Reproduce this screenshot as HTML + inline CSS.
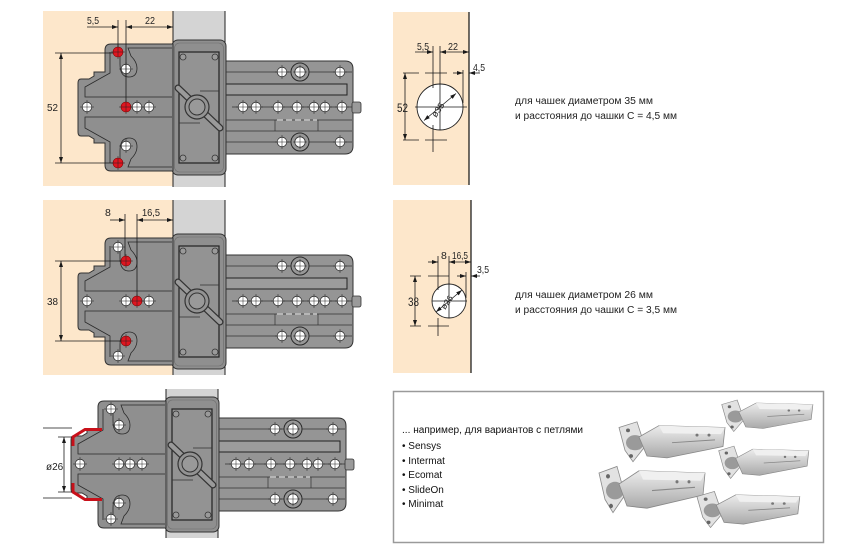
<!DOCTYPE html>
<html><head><meta charset="utf-8"><style>
html,body{margin:0;padding:0;background:#fff;}
svg{display:block;font-family:"Liberation Sans",Arial,sans-serif;}
</style></head><body>
<svg width="841" height="547" viewBox="0 0 841 547" xmlns="http://www.w3.org/2000/svg" xmlns:xlink="http://www.w3.org/1999/xlink">
<defs>
<marker id="a" viewBox="0 0 10 10" refX="10" refY="5" markerWidth="6" markerHeight="4" preserveAspectRatio="none" orient="auto-start-reverse" markerUnits="userSpaceOnUse"><path d="M0,0L10,5L0,10z" fill="#1a1a1a"/></marker>
<linearGradient id="sg" x1="0" y1="0" x2="0" y2="1"><stop offset="0" stop-color="#ececec"/><stop offset="1" stop-color="#a9a9a9"/></linearGradient>
<g id="hw"><circle r="4.8" fill="#fff" stroke="#333" stroke-width=".8"/><path d="M-7,0H7M0,-7V7" stroke="#222" stroke-width=".5"/></g>
<g id="hr"><circle r="5" fill="#e01520" stroke="#800" stroke-width=".6"/><path d="M-7,0H7M0,-7V7" stroke="#222" stroke-width=".5"/></g>
<g id="hb"><circle r="9" fill="#979797" stroke="#2a2a2a" stroke-width="1"/><circle r="5.2" fill="#fff" stroke="#333" stroke-width=".8"/><path d="M-7,0H7M0,-7V7" stroke="#222" stroke-width=".5"/></g>

<g id="rt">
 <path d="M224,61H345Q353,61 353,69V146Q353,154 345,154H224Z" fill="#959595" stroke="#333" stroke-width="1"/>
 <rect x="352" y="102" width="9" height="11" rx="2" fill="#9a9a9a" stroke="#333" stroke-width=".8"/>
 <path d="M226,72H352M232,107H352M226,120H352M226,131H352M226,142H352M275,120V131M318,120V131" stroke="#333" stroke-width=".7" fill="none"/>
 <path d="M277,120H317" stroke="#d8d8d8" stroke-width="1" stroke-dasharray="6 3"/>
 <rect x="226" y="84" width="121" height="11" fill="#9c9c9c" stroke="#222" stroke-width="1"/>
 <rect x="172" y="40" width="54" height="135" rx="6" fill="#8f8f8f" stroke="#333" stroke-width="1"/>
 <rect x="174.5" y="43" width="49" height="129" rx="5" fill="none" stroke="#6a6a6a" stroke-width=".6"/>
 <rect x="179" y="52" width="40" height="111" fill="#939393" stroke="#222" stroke-width="1.2"/>
 <g fill="#9a9a9a" stroke="#333" stroke-width=".8">
  <circle cx="183" cy="57" r="3"/><circle cx="215" cy="57" r="3"/><circle cx="183" cy="158" r="3"/><circle cx="215" cy="158" r="3"/>
 </g>
 <path d="M200,91H219M179,123H200" stroke="#333" stroke-width=".8"/>
 <path d="M178,88L220,128" stroke="#333" stroke-width="7" stroke-linecap="round"/>
 <path d="M178,88L220,128" stroke="#9a9a9a" stroke-width="4.5" stroke-linecap="round"/>
 <circle cx="197" cy="107" r="12" fill="#939393" stroke="#333" stroke-width="1.2"/>
 <circle cx="197" cy="107" r="8" fill="#999" stroke="#333" stroke-width="1"/>
 <use href="#hw" x="282" y="72"/><use href="#hb" x="300" y="72"/><use href="#hw" x="340" y="72"/>
 <use href="#hw" x="243" y="107"/><use href="#hw" x="256" y="107"/><use href="#hw" x="278" y="107"/><use href="#hw" x="297" y="107"/><use href="#hw" x="314" y="107"/><use href="#hw" x="325" y="107"/><use href="#hw" x="342" y="107"/>
 <use href="#hw" x="282" y="142"/><use href="#hb" x="300" y="142"/><use href="#hw" x="340" y="142"/>
</g>

<g id="pl">
 <path d="M111,44H173V171H111Q105,171 105,165V143H94V139L89,136H81Q78,136 78,132V83Q78,79 81,79H89L94,76V72H105V50Q105,44 111,44Z" fill="#8f8f8f" stroke="#333" stroke-width="1"/>
 <g stroke="#2a2a2a" stroke-width=".8" fill="none">
  <path d="M110,52V73L85,87V97H172"/>
  <path d="M110,163V142L85,128V117H172"/>
  <path d="M120,50V64Q120,77 129,77Q137,77 137,68Q137,62 131,56L128,48H172"/>
  <path d="M120,165V151Q120,138 129,138Q137,138 137,147Q137,153 131,159L128,167H172"/>
 </g>
</g>

<g id="hg">
 <polygon points="2,10 20,4 28,30 16,46 8,34" fill="#e2e2e2" stroke="#8a8a8a" stroke-width=".8"/>
 <ellipse cx="18" cy="26" rx="9" ry="8" fill="#9a9a9a"/>
 <polygon points="22,20 42,8 108,10 106,30 50,42 30,40" fill="url(#sg)" stroke="#888" stroke-width=".8"/>
 <polygon points="42,8 108,10 104,17 46,16" fill="#f0f0f0"/>
 <circle cx="11" cy="13" r="2" fill="#666"/>
 <circle cx="14" cy="40" r="2" fill="#666"/>
 <path d="M55,26L98,23" stroke="#888" stroke-width="1"/>
 <circle cx="80" cy="18" r="1.5" fill="#777"/><circle cx="92" cy="18" r="1.5" fill="#777"/>
</g>
</defs>

<!-- backgrounds -->
<rect x="43" y="11" width="130" height="175" fill="#fde7cb"/>
<rect x="173" y="11" width="52" height="176" fill="#d4d4d4"/>
<path d="M173,11V187M225,11V187" stroke="#222" stroke-width="1"/>

<rect x="43" y="200" width="130" height="175" fill="#fde7cb"/>
<rect x="173" y="200" width="52" height="175" fill="#d4d4d4"/>
<path d="M173,200V375M225,200V375" stroke="#222" stroke-width="1"/>

<rect x="166" y="389" width="52" height="149" fill="#d4d4d4"/>
<path d="M166,389V538M218,389V538" stroke="#222" stroke-width="1"/>

<!-- top instance -->
<use href="#rt"/>
<use href="#pl"/>
<use href="#hr" x="118" y="52"/><use href="#hw" x="126" y="69"/>
<use href="#hw" x="87" y="107"/><use href="#hr" x="126" y="107"/><use href="#hw" x="137" y="107"/><use href="#hw" x="149" y="107"/>
<use href="#hw" x="126" y="146"/><use href="#hr" x="118" y="163"/>
<g stroke="#1a1a1a" stroke-width=".8" fill="none">
 <path d="M118,20V47M126,20V102"/>
 <path d="M87,27H118" marker-end="url(#a)"/>
 <path d="M126,27H173" marker-start="url(#a)" marker-end="url(#a)"/>
 <path d="M55,53H113M55,163H113"/>
 <path d="M61,53V163" marker-start="url(#a)" marker-end="url(#a)"/>
</g>
<g font-size="10.5" fill="#222">
 <text x="87" y="24" textLength="12" lengthAdjust="spacingAndGlyphs">5,5</text>
 <text x="145" y="24" textLength="10" lengthAdjust="spacingAndGlyphs">22</text>
 <text x="47" y="111" textLength="11" lengthAdjust="spacingAndGlyphs">52</text>
</g>

<!-- middle instance -->
<g transform="translate(0,194)">
 <use href="#rt"/>
 <use href="#pl"/>
 <use href="#hw" x="118" y="53"/><use href="#hr" x="126" y="67"/>
 <use href="#hw" x="87" y="107"/><use href="#hw" x="126" y="107"/><use href="#hr" x="137" y="107"/><use href="#hw" x="149" y="107"/>
 <use href="#hr" x="126" y="147"/><use href="#hw" x="118" y="162"/>
</g>
<g stroke="#1a1a1a" stroke-width=".8" fill="none">
 <path d="M125,214V256M137,214V296"/>
 <path d="M110,220H125" marker-end="url(#a)"/>
 <path d="M137,220H173" marker-start="url(#a)" marker-end="url(#a)"/>
 <path d="M55,261H121M55,341H121"/>
 <path d="M61,261V341" marker-start="url(#a)" marker-end="url(#a)"/>
</g>
<g font-size="10.5" fill="#222">
 <text x="105" y="216">8</text>
 <text x="142" y="216" textLength="18" lengthAdjust="spacingAndGlyphs">16,5</text>
 <text x="47" y="305" textLength="11" lengthAdjust="spacingAndGlyphs">38</text>
</g>

<!-- bottom instance -->
<g transform="translate(-7,357)">
 <use href="#rt"/>
 <use href="#pl"/>
 <path d="M109,72.5H92L80,80V89" stroke="#c8101a" stroke-width="3" fill="none"/>
 <path d="M109,142.5H92L80,135V126" stroke="#c8101a" stroke-width="3" fill="none"/>
 <use href="#hw" x="118" y="52"/><use href="#hw" x="126" y="68"/>
 <use href="#hw" x="87" y="107"/><use href="#hw" x="126" y="107"/><use href="#hw" x="137" y="107"/><use href="#hw" x="149" y="107"/>
 <use href="#hw" x="126" y="146"/><use href="#hw" x="118" y="162"/>
</g>
<g stroke="#1a1a1a" stroke-width=".8" fill="none">
 <path d="M43,428H72M43,498H72M58,437H72M58,492H72"/>
 <path d="M64,437V492" marker-start="url(#a)" marker-end="url(#a)"/>
</g>
<text x="46" y="470" font-size="10" fill="#222">ø26</text>

<!-- top right diagram -->
<rect x="393" y="12" width="76" height="173" fill="#fde7cb"/>
<path d="M469,12V185" stroke="#111" stroke-width="1.2"/>
<circle cx="440" cy="107" r="23" fill="#fff" stroke="#222" stroke-width=".9"/>
<g stroke="#1a1a1a" stroke-width=".8" fill="none">
 <path d="M433,46V88M433,125V152M440,46V130"/>
 <path d="M415,52H433" marker-end="url(#a)"/>
 <path d="M440,52H469" marker-start="url(#a)" marker-end="url(#a)"/>
 <path d="M403,73H419M425,73H447M403,140H419M425,140H447M415,107H467"/>
 <path d="M463,70V103"/>
 <path d="M453,73H463" marker-end="url(#a)"/>
 <path d="M480,73H469" marker-end="url(#a)"/>
 <path d="M405,73V140" marker-start="url(#a)" marker-end="url(#a)"/>
 <path d="M424,120.5L456,93.5" marker-start="url(#a)" marker-end="url(#a)"/>
</g>
<g font-size="10.5" fill="#222">
 <text x="417" y="50" textLength="12" lengthAdjust="spacingAndGlyphs">5,5</text>
 <text x="448" y="50" textLength="10" lengthAdjust="spacingAndGlyphs">22</text>
 <text x="473" y="71" textLength="12" lengthAdjust="spacingAndGlyphs">4,5</text>
 <text x="397" y="112" font-size="12" textLength="11" lengthAdjust="spacingAndGlyphs">52</text>
 <text x="0" y="0" font-size="9" transform="translate(436,118) rotate(-55)">ø35</text>
</g>

<!-- middle right diagram -->
<rect x="393" y="200" width="78" height="173" fill="#fde7cb"/>
<path d="M471,200V373" stroke="#111" stroke-width="1.2"/>
<circle cx="449" cy="301" r="17" fill="#fff" stroke="#222" stroke-width=".9"/>
<g stroke="#1a1a1a" stroke-width=".8" fill="none">
 <path d="M438,256V290M438,318V336M449,256V318"/>
 <path d="M428,262H438" marker-end="url(#a)"/>
 <path d="M449,262H471" marker-start="url(#a)" marker-end="url(#a)"/>
 <path d="M428,276H449M410,276H421M428,326H449M410,326H421M432,301H467"/>
 <path d="M466,272V298"/>
 <path d="M457,276H466" marker-end="url(#a)"/>
 <path d="M480,276H471" marker-end="url(#a)"/>
 <path d="M415,276V326" marker-start="url(#a)" marker-end="url(#a)"/>
 <path d="M436,312L462,290" marker-start="url(#a)" marker-end="url(#a)"/>
</g>
<g font-size="10.5" fill="#222">
 <text x="441" y="259">8</text>
 <text x="452" y="259" textLength="16" lengthAdjust="spacingAndGlyphs">16,5</text>
 <text x="477" y="273" textLength="12" lengthAdjust="spacingAndGlyphs">3,5</text>
 <text x="408" y="306" font-size="12" textLength="11" lengthAdjust="spacingAndGlyphs">38</text>
 <text x="0" y="0" font-size="8.5" transform="translate(445,310) rotate(-55)">ø26</text>
</g>

<!-- right texts -->
<g font-size="10" fill="#222">
 <text x="515" y="104" textLength="138" lengthAdjust="spacingAndGlyphs">для чашек диаметром 35 мм</text>
 <text x="515" y="119" textLength="162" lengthAdjust="spacingAndGlyphs">и расстояния до чашки С = 4,5 мм</text>
 <text x="515" y="298" textLength="138" lengthAdjust="spacingAndGlyphs">для чашек диаметром 26 мм</text>
 <text x="515" y="313" textLength="162" lengthAdjust="spacingAndGlyphs">и расстояния до чашки С = 3,5 мм</text>
</g>

<!-- bottom right box -->
<rect x="393.5" y="391.5" width="430" height="151" fill="#fff" stroke="#9a9a9a" stroke-width="1.5"/>
<g font-size="10" fill="#111">
 <text x="402" y="433" textLength="181" lengthAdjust="spacingAndGlyphs">... например, для вариантов с петлями</text>
 <text x="402" y="449">• Sensys</text>
 <text x="402" y="464">• Intermat</text>
 <text x="402" y="478">• Ecomat</text>
 <text x="402" y="493">• SlideOn</text>
 <text x="402" y="507">• Minimat</text>
</g>
<use href="#hg" transform="translate(617,418) scale(1,0.95)"/>
<use href="#hg" transform="translate(720,397) scale(0.86,0.75)"/>
<use href="#hg" transform="translate(597,462) scale(1,1.1)"/>
<use href="#hg" transform="translate(717,443) scale(0.85,0.77)"/>
<use href="#hg" transform="translate(695,488) scale(0.97,0.86)"/>
</svg>
</body></html>
